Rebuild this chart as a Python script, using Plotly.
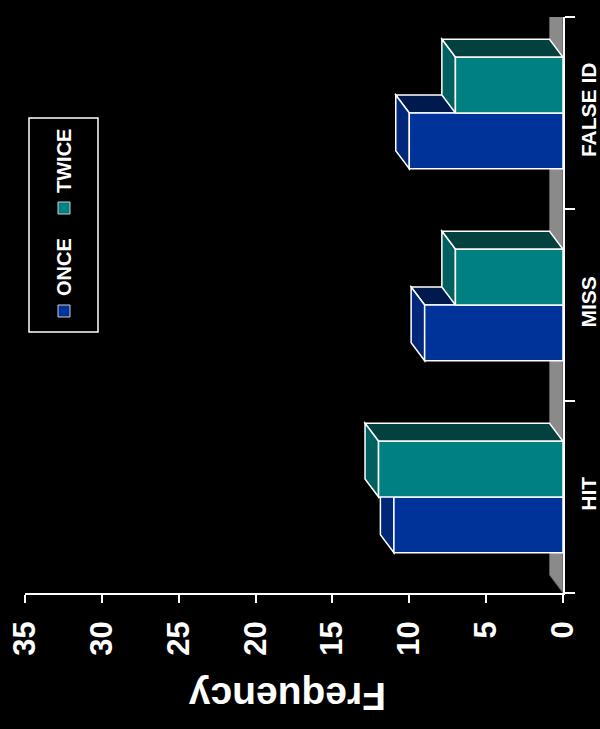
import plotly.graph_objects as go

# ---------------- data ----------------
categories = ["HIT", "MISS", "FALSE ID"]
series_names = ["ONCE", "TWICE"]
once_values = [11, 9, 10]
twice_values = [12, 7, 7]
value_ticks = [0, 5, 10, 15, 20, 25, 30, 35]

# ---------------- style ----------------
W, H = 600, 729
BAR_W = 0.29          # bar thickness in category units
DEPTH_X = 0.88        # 3D depth, value units
DEPTH_Y = 0.094       # 3D depth, category units
FONT = "Liberation Sans, Arial, sans-serif"
palette = {
    "ONCE": dict(front="#003399", end="#00277a", top="#001a4d"),
    "TWICE": dict(front="#008080", end="#006060", top="#034040"),
}
EDGE = dict(color="white", width=1.5)

# plot-area in pixels (for paper conversion of legend/title)
L, R, T, B = 25, 563, 17, 593


def px2paper(px, py):
    return (px - L) / (R - L), (B - py) / (B - T)


positions = list(range(len(categories)))
series = [("ONCE", once_values, -BAR_W), ("TWICE", twice_values, 0.0)]

fig = go.Figure()
shapes = []

# floor (gray strip behind bars)
y_lo, y_hi = -0.5, len(categories) - 0.5
shapes.append(dict(
    type="path", xref="x", yref="y", layer="below",
    path=f"M 0,{y_lo} L 0,{y_hi} L {DEPTH_X},{y_hi + DEPTH_Y} L {DEPTH_X},{y_lo + DEPTH_Y} Z",
    fillcolor="#8a8a8a", line=dict(color="#5a5a5a", width=1),
))

for name, vals, off in series:
    c = palette[name]
    fig.add_trace(go.Bar(
        x=vals, y=positions, orientation="h", width=BAR_W, offset=off,
        name=name, marker=dict(color=c["front"], line=EDGE),
        showlegend=False,
    ))
    for p, v in zip(positions, vals):
        y0 = p + off
        y1 = y0 + BAR_W
        # top (side) face
        shapes.append(dict(
            type="path", xref="x", yref="y", layer="below",
            path=(f"M 0,{y1} L {v},{y1} L {v + DEPTH_X},{y1 + DEPTH_Y} "
                  f"L {DEPTH_X},{y1 + DEPTH_Y} Z"),
            fillcolor=c["top"], line=EDGE,
        ))
        # end face
        shapes.append(dict(
            type="path", xref="x", yref="y", layer="below",
            path=(f"M {v},{y0} L {v},{y1} L {v + DEPTH_X},{y1 + DEPTH_Y} "
                  f"L {v + DEPTH_X},{y0 + DEPTH_Y} Z"),
            fillcolor=c["end"], line=EDGE,
        ))

# ---------------- legend (rotated, drawn manually) ----------------
bx0, by0 = px2paper(29, 332)
bx1, by1 = px2paper(98, 118)
shapes.append(dict(type="rect", xref="paper", yref="paper", x0=bx0, y0=by0, x1=bx1, y1=by1,
                   line=dict(color="white", width=1.5), fillcolor="black", layer="above"))
annotations = []
legend_items = [("ONCE", 311, 267), ("TWICE", 208, 161)]
for name, marker_y, text_y in legend_items:
    mx0, my0 = px2paper(58, marker_y + 6)
    mx1, my1 = px2paper(70, marker_y - 6)
    shapes.append(dict(type="rect", xref="paper", yref="paper", x0=mx0, y0=my0, x1=mx1, y1=my1,
                       fillcolor=palette[name]["front"], line=dict(color="#cccccc", width=1),
                       layer="above"))
    tx, ty = px2paper(64, text_y)
    annotations.append(dict(xref="paper", yref="paper", x=tx, y=ty, text=name, showarrow=False,
                            textangle=-90, xanchor="center", yanchor="middle",
                            font=dict(family=FONT, size=20, color="white", weight="bold")))

# axis title (upside-down)
fx, fy = px2paper(287, 697)
annotations.append(dict(xref="paper", yref="paper", x=fx, y=fy, text="Frequency", showarrow=False,
                        textangle=180, xanchor="center", yanchor="middle",
                        font=dict(family=FONT, size=39, color="white", weight="bold")))

fig.update_layout(
    width=W, height=H,
    margin=dict(l=L, r=W - R, t=T, b=H - B, pad=0, autoexpand=False),
    paper_bgcolor="black", plot_bgcolor="black",
    barmode="overlay", showlegend=False,
    shapes=shapes, annotations=annotations,
    xaxis=dict(
        range=[35, 0], tickvals=value_ticks, ticks="outside", ticklen=8, tickwidth=1.5,
        tickcolor="white", showline=True, linecolor="white", linewidth=1.5,
        showgrid=False, zeroline=False, tickangle=-90, automargin=False,
        tickfont=dict(family=FONT, size=31, color="white", weight="bold"),
        ticklabelstandoff=6,
    ),
    yaxis=dict(
        range=[y_lo, y_hi], side="right", tickvals=positions, ticktext=categories,
        ticks="", showline=True, linecolor="white", linewidth=1.5,
        showgrid=False, zeroline=False, tickangle=-90, automargin=False,
        tickfont=dict(family=FONT, size=21, color="white", weight="bold"),
        ticklabelstandoff=6,
        minor=dict(tickvals=[y_lo + k for k in range(len(categories) + 1)], ticks="outside",
                   ticklen=10, tickwidth=1.5, tickcolor="white", showgrid=False),
    ),
)

fig.write_html("out.html")
